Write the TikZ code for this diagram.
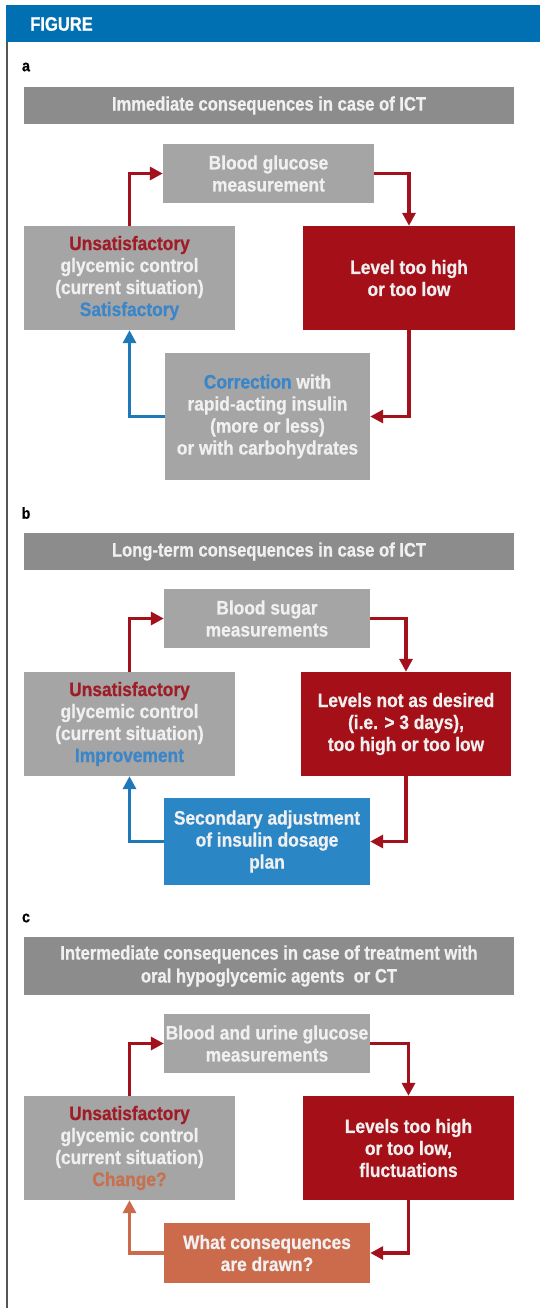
\documentclass[tikz,border=0pt]{standalone}
\usepackage{fontspec}
\usetikzlibrary{arrows.meta}
\newfontfamily\boxfont[FakeStretch=0.89,FakeBold=0.6]{Liberation Sans}
\newfontfamily\titlefont[FakeStretch=0.85,FakeBold=0.6]{Liberation Sans}
\definecolor{hdrblue}{HTML}{0070B2}
\definecolor{titlegray}{HTML}{8C8C8C}
\definecolor{boxgray}{HTML}{A5A5A5}
\definecolor{boxred}{HTML}{A50F18}
\definecolor{boxblue}{HTML}{2B86C5}
\definecolor{boxorange}{HTML}{CC6A4C}
\definecolor{txtlight}{HTML}{F0F0F0}
\definecolor{txtred}{HTML}{A01C26}
\definecolor{txtblue}{HTML}{3A86C8}
\definecolor{txtorange}{HTML}{C8704E}
\definecolor{arrred}{HTML}{A3121C}
\definecolor{arrblue}{HTML}{1F78B8}
\definecolor{bordergray}{HTML}{555555}
\tikzset{
  boxbase/.style={rectangle, inner sep=0pt, align=center, text=txtlight,
    font=\boxfont\bfseries\fontsize{19.5}{22}\selectfont},
  graybox/.style={boxbase, fill=boxgray},
  redbox/.style={boxbase, fill=boxred},
  bluebox/.style={boxbase, fill=boxblue},
  orangebox/.style={boxbase, fill=boxorange},
  titlebar/.style={rectangle, inner sep=0pt, align=center, fill=titlegray, text=txtlight,
    minimum width=490pt, font=\titlefont\bfseries\fontsize{19.5}{23}\selectfont},
  panellabel/.style={inner sep=0pt, text=black, font=\boxfont\bfseries\fontsize{16}{16}\selectfont},
  conn/.style={line width=3.5pt, -{Triangle[length=13pt,width=13pt]}},
  redconn/.style={conn, draw=arrred},
  blueconn/.style={conn, draw=arrblue},
  orangeconn/.style={conn, draw=boxorange},
}
\begin{document}
\begin{tikzpicture}[x=1pt, y=-1pt]
\useasboundingbox (0,0) rectangle (540,1308);
\fill[white] (0,0) rectangle (540,1308);
% header
\fill[hdrblue] (6,5) rectangle (540,42);
\node[anchor=west, inner sep=0pt, text=white, font=\titlefont\bfseries\fontsize{19.5}{19.5}\selectfont] (hdr) at (30,24) {FIGURE};
\draw[line width=1.5pt, bordergray] (6.75,42) -- (6.75,1308);

% ---------- panel a
\node[panellabel] (la) at (26,67) {a};
\node[titlebar, minimum height=37pt] (ta) at (269,105.5) {Immediate consequences in case of ICT};
\node[graybox, minimum width=211pt, minimum height=59pt] (m1) at (268.5,173.5) {Blood glucose\\measurement};
\node[graybox, minimum width=211pt, minimum height=104pt] (u1) at (129.5,278)
  {\textcolor{txtred}{Unsatisfactory}\\glycemic control\\(current situation)\\\textcolor{txtblue}{Satisfactory}};
\node[redbox, minimum width=212pt, minimum height=104pt] (l1) at (409,278) {Level too high\\or too low};
\node[graybox, minimum width=205pt, minimum height=127pt] (c1) at (267.5,416.5)
  {\textcolor{txtblue}{Correction} with\\rapid-acting insulin\\(more or less)\\or with carbohydrates};
\draw[redconn] (u1.north) |- (m1.west);
\draw[redconn] (m1.east) -| (l1.north);
\draw[redconn] (l1.south) |- (c1.east);
\draw[blueconn] (c1.west) -| (u1.south);

% ---------- panel b
\node[panellabel] (lb) at (26,513) {b};
\node[titlebar, minimum height=37pt] (tb) at (269,551.5) {Long-term consequences in case of ICT};
\node[graybox, minimum width=206pt, minimum height=59pt] (m2) at (267,618.5) {Blood sugar\\measurements};
\node[graybox, minimum width=211pt, minimum height=104pt] (u2) at (129.5,724)
  {\textcolor{txtred}{Unsatisfactory}\\glycemic control\\(current situation)\\\textcolor{txtblue}{Improvement}};
\node[redbox, minimum width=210pt, minimum height=104pt] (l2) at (406,724) {Levels not as desired\\(i.e. > 3 days),\\too high or too low};
\node[bluebox, minimum width=206pt, minimum height=87pt] (s2) at (267,841.5)
  {Secondary adjustment\\of insulin dosage\\plan};
\draw[redconn] (u2.north) |- (m2.west);
\draw[redconn] (m2.east) -| (l2.north);
\draw[redconn] (l2.south) |- (s2.east);
\draw[blueconn] (s2.west) -| (u2.south);

% ---------- panel c
\node[panellabel] (lc) at (26,918) {c};
\node[titlebar, minimum height=58pt] (tc) at (269,966) {Intermediate consequences in case of treatment with\\oral hypoglycemic agents\ \ or CT};
\node[graybox, minimum width=206pt, minimum height=59pt] (m3) at (267,1043.5) {Blood and urine glucose\\measurements};
\node[graybox, minimum width=211pt, minimum height=104pt] (u3) at (129.5,1148)
  {\textcolor{txtred}{Unsatisfactory}\\glycemic control\\(current situation)\\\textcolor{txtorange}{Change?}};
\node[redbox, minimum width=211pt, minimum height=104pt] (l3) at (408.5,1148) {Levels too high\\or too low,\\fluctuations};
\node[orangebox, minimum width=206pt, minimum height=60pt] (w3) at (267,1253) {What consequences\\are drawn?};
\draw[redconn] (u3.north) |- (m3.west);
\draw[redconn] (m3.east) -| (l3.north);
\draw[redconn] (l3.south) |- (w3.east);
\draw[orangeconn] (w3.west) -| (u3.south);
\end{tikzpicture}
\end{document}
